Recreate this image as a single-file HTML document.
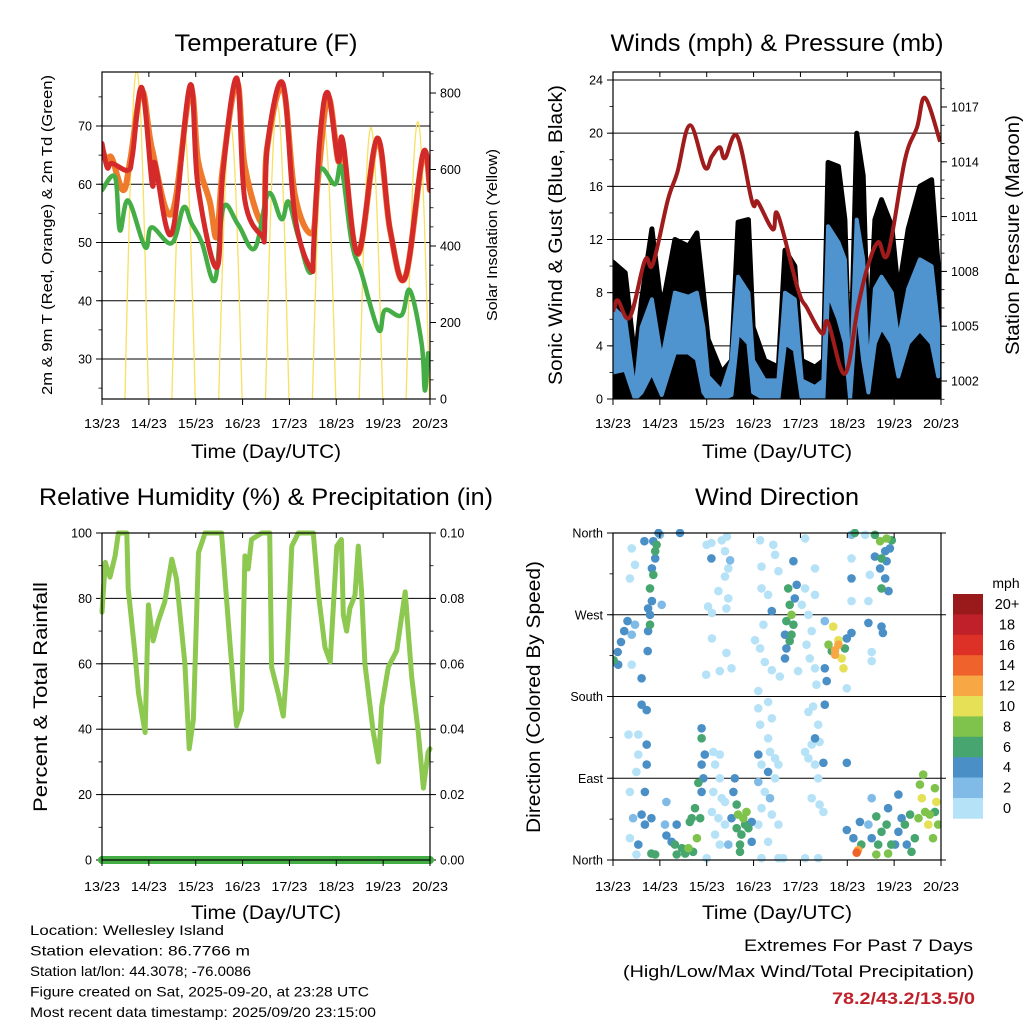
<!DOCTYPE html>
<html><head><meta charset="utf-8"><style>
html,body{margin:0;padding:0;background:#fff;}
svg{display:block;font-family:"Liberation Sans",Arial,sans-serif;}
</style></head><body>
<svg id="c" width="1024" height="1024" viewBox="0 0 1024 1024" xmlns="http://www.w3.org/2000/svg"></svg>
<script>
// ---------- DATA ----------
const dayLabels = ["13/23","14/23","15/23","16/23","17/23","18/23","19/23","20/23"];
// Temperature (days since 13/23, deg F)
const redT = [0,0.11,0.21,0.55,0.65,0.85,1.07,1.13,1.49,1.88,2.05,2.45,2.58,2.88,3.05,3.44,3.47,3.52,3.86,4.12,4.48,4.52,4.65,4.82,5.04,5.14,5.46,5.87,6.15,6.47,6.85,7.0];
const redV = [67,62.9,63.6,62.4,65,76.6,60.1,63.6,51.6,77.0,59.5,45.7,62,78.2,57.2,50.9,52,66,77.3,54.3,45.2,50,68,75.7,64.1,67.5,48.1,67.9,52.1,44.0,65.3,59.0];
const orgT = [0,0.11,0.21,0.45,0.6,0.85,1.07,1.49,1.88,2.05,2.3,2.45,2.58,2.88,3.05,3.44,3.52,3.86,4.12,4.48,4.6,4.82,5.04,5.14,5.46,5.87,6.15,6.47,6.85,7.0];
const orgV = [66,64,64.5,59,64,76,66,55,76,64,57,51,63,77.5,63,53.3,66,76.5,58,51.6,60,75,64,67,48,67.5,52,44,65,59];
const grnT = [0,0.28,0.38,0.56,0.92,1.06,1.49,1.74,1.91,2.13,2.41,2.59,2.91,3.26,3.55,3.83,3.98,4.19,4.48,4.62,4.97,5.11,5.33,5.54,5.9,6.04,6.39,6.57,6.82,6.89,6.96];
const grnV = [59,61.2,52.1,57.2,49.2,52.6,49.9,56,53.3,50,43.5,56,53,49,58.4,54,57,51,45.2,61.9,60,62.9,50,44.7,35.0,38.4,37.5,41.8,32.7,24.6,31];
const solarPeaks = [860,720,720,770,710,710,725];
// Winds
const windT = [0,0.26,0.47,0.61,0.83,1.04,1.32,1.61,1.79,1.93,2.03,2.32,2.53,2.67,2.89,2.99,3.24,3.53,3.67,3.88,4.03,4.31,4.49,4.59,4.81,4.95,5.06,5.20,5.34,5.45,5.59,5.73,5.95,6.09,6.30,6.55,6.80,6.94];
const gustV = [10.3,9.5,2.9,7.5,12.8,6.7,12,11.5,12.5,8,4.5,2,2.9,13.3,13.5,5.4,2.9,2.4,11.2,10,2.9,2.4,2.9,17.8,17.5,13.5,0.6,20,16.8,3.5,13.5,15,13,8,12.8,16,16.5,10];
const windHi = [6.9,6.0,0.4,5.4,7.5,2.9,8,7.7,8,5.4,1.7,0.6,2.9,9.2,8,2.9,1.4,1.4,8,7.5,1.4,0.9,1.4,13,11.8,10.5,0.3,13.5,10.5,1.4,8.3,9.2,8,4.4,8.3,10.5,10,5.4];
const windLo = [2.0,2.2,0,0.5,2,0.3,3.5,3.5,3,0.5,0,0,0.3,5,4.2,0.5,0,0,4.2,3.7,0,0,0,8,6,4.2,0,7.2,2.9,0.5,4.2,5.4,4.2,1.7,4.2,5.2,4.2,1.7];
const presT = [0,0.04,0.11,0.36,0.68,0.85,1.17,1.37,1.64,1.96,2.11,2.28,2.39,2.65,2.97,3.09,3.41,3.52,3.95,4.14,4.46,4.59,4.95,5.23,5.44,5.66,5.87,6.23,6.49,6.66,6.98];
const presV = [1005.8,1006.1,1006.4,1005.5,1008.6,1008.4,1011.9,1013.4,1016.0,1013.7,1014.3,1014.8,1014.2,1015.4,1011.8,1011.8,1010.3,1011.1,1007.0,1006.0,1004.6,1005.2,1002.4,1006.1,1008.3,1009.6,1009.0,1014.1,1015.9,1017.5,1015.1];
// Relative humidity
const rhT = [0,0.07,0.17,0.28,0.35,0.53,0.56,0.7,0.78,0.92,0.99,1.09,1.2,1.34,1.49,1.59,1.77,1.86,1.95,2.06,2.2,2.55,2.7,2.87,2.98,3.05,3.12,3.19,3.41,3.58,3.62,3.76,3.87,3.94,4.05,4.19,4.51,4.62,4.76,4.87,5.01,5.11,5.15,5.22,5.29,5.4,5.47,5.54,5.61,5.79,5.9,5.97,6.11,6.29,6.47,6.61,6.75,6.86,6.96,7.0];
const rhV = [75.8,91,86.5,93,100,100,83,63.6,51,39,78,67,73,79,92,86,60,34,43,94,100,100,72,41,46,93,89,98,100,100,59,51,44,58,96,100,100,81,65,60.6,96,98,75,70,77,81,96,82,60,39,30,47,59,64,82,56,39,22,33,34];
const precipT = [0,7];
const precipV = [0,0];
// Wind direction points: [day, direction deg, speed mph]
const dirPts = [
[0.03,218,4],[0.1,229,4],[0.17,240,4],[0.24,252,4],[0.31,263,4],[0.11,215,4],[0.01,220,6],[0.4,248,2],[0.47,259,2],[0.36,310,0],[0.47,325,0],[0.4,343,0],[0.61,200,4],[0.4,215,0],
[0.97,360,4],[0.93,347,6],[0.9,332,4],[0.83,321,4],[0.86,314,6],[0.79,299,6],[0.83,285,4],[0.75,277,4],[0.79,270,4],[0.75,252,4],[0.79,259,6],[0.9,340,6],[0.86,351,4],[0.74,230,4],[0.67,351,4],[1.43,360,4],[1.04,281,2],[1.0,358,2],
[2.0,347,0],[2.1,349,0],[2.32,352,0],[2.43,356,0],[2.39,340,0],[2.5,330,2],[2.1,332,4],[2.46,321,0],[2.39,312,0],[2.25,296,0],[2.03,279,0],[2.46,288,0],[2.11,272,0],[2.42,277,0],[2.11,244,0],[2.42,228,0],[2.28,208,0],[1.99,204,0],[2.53,211,0],
[3.14,352,0],[3.17,323,0],[3.42,347,0],[3.46,336,0],[3.53,318,0],[3.17,299,0],[3.31,292,0],[3.39,274,4],[3.21,259,0],[3.03,242,0],[3.14,233,0],[3.24,218,0],[3.39,209,0],[3.56,202,0],[3.1,186,0],
[3.74,299,6],[3.77,281,6],[3.81,270,8],[3.7,263,6],[3.85,259,6],[3.67,248,4],[3.81,248,6],[3.7,233,4],[3.67,222,4],[3.88,288,4],[3.85,329,4],[3.92,303,4],[3.77,241,6],
[4.1,299,0],[4.03,281,0],[4.17,270,0],[4.31,292,0],[4.24,252,0],[4.13,237,0],[4.2,222,0],[4.31,211,0],[4.34,193,0],[4.31,321,0],[4.1,354,0],[4.52,263,2],[3.95,208,0],
[4.6,237,8],[4.67,230,6],[4.74,231,12],[4.81,237,12],[4.74,226,12],[4.88,222,10],[4.92,211,10],[4.81,242,10],[4.95,233,6],[4.7,257,10],[4.52,211,4],[4.56,197,4],[4.99,244,4],[5.09,250,4],[4.99,189,0],
[5.09,310,4],[5.09,332,0],[5.09,285,0],[5.45,285,0],[5.45,261,4],[5.52,229,0],[5.52,219,0],[5.73,257,4],[5.76,250,4],[5.48,314,0],[5.38,358,0],[5.09,358,2],
[5.59,358,6],[5.7,351,8],[5.84,354,8],[5.95,352,6],[5.81,340,4],[5.91,343,4],[5.73,332,6],[5.84,329,4],[5.7,321,4],[5.81,310,4],[5.73,299,6],[5.88,296,4],[5.59,334,4],[5.16,360,6],
[0.61,171,4],[0.72,165,4],[0.33,138,0],[0.54,138,0],[0.72,127,4],[0.54,116,0],[0.72,105,4],[0.5,97,0],[0.68,75,4],[0.36,75,0],[0.43,46,2],[0.61,50,4],[0.68,39,4],[0.36,24,0],[0.54,17,4],[0.82,7,6],[0.9,6,6],[0.5,6,0],[0.82,46,4],
[1.11,39,2],[1.14,27,4],[1.25,20,4],[1.32,17,6],[1.47,13,6],[1.54,7,6],[1.61,13,8],[1.68,46,6],[1.75,57,6],[1.79,24,8],[1.64,42,6],[1.86,46,6],[1.89,75,4],[1.93,90,4],[1.89,105,4],[1.89,145,4],[1.89,134,6],[1.82,85,6],[1.36,39,4],[1.14,64,2],[1.71,9,6],[1.36,6,6],[1.96,116,4],
[2.14,119,0],[2.28,116,0],[2.18,105,0],[2.28,90,0],[2.14,75,0],[2.32,68,0],[2.11,53,0],[2.25,46,0],[2.39,39,0],[2.18,28,0],[2.28,17,0],[2.0,2,0],[2.46,17,2],[2.39,64,0],
[2.6,90,4],[2.57,75,4],[2.64,61,6],[2.67,50,8],[2.78,46,8],[2.85,53,8],[2.82,39,6],[2.74,28,6],[2.71,17,6],[2.89,35,6],[2.64,35,6],[2.71,9,6],[2.96,20,4],[2.53,46,4],[2.96,42,4],
[3.1,167,0],[3.14,149,0],[3.31,174,0],[3.39,156,0],[3.31,134,0],[3.1,116,4],[3.17,105,0],[3.35,119,0],[3.46,112,0],[3.53,105,0],[3.31,97,4],[3.1,86,2],[3.24,75,0],[3.35,68,2],[3.46,90,0],[3.17,57,0],[3.39,50,0],[3.1,39,0],[3.31,20,0],[3.17,2,0],[3.53,2,0],[3.63,2,0],[3.53,39,0],
[4.17,163,0],[4.27,169,0],[4.38,149,0],[4.31,134,4],[4.1,119,0],[4.24,127,0],[4.41,130,0],[4.17,112,0],[4.31,105,0],[4.49,107,4],[4.38,90,0],[4.24,68,0],[4.41,61,0],[4.49,53,0],[4.1,2,0],[4.38,2,0],[4.52,171,4],
[4.99,107,4],[4.99,33,4],[5.13,24,4],[5.2,8,14],[5.23,11,12],[5.3,17,6],[5.27,42,4],[5.45,39,2],[5.52,24,4],[5.62,6,8],[5.66,17,6],[5.73,31,6],[5.87,7,8],[5.94,17,6],[5.84,39,6],[5.62,48,6],[5.52,68,2],[5.87,57,4],[6.09,31,4],[6.16,46,4],[6.02,17,4],[6.23,39,6],[6.27,17,4],[6.37,9,6],[6.44,24,6],[6.52,46,8],[6.59,68,10],[6.62,94,8],[6.66,53,8],[6.73,39,10],[6.76,50,8],[6.83,24,8],[6.87,53,6],[6.9,64,10],[6.94,39,8],[6.87,79,8],[6.34,50,6],[6.09,72,4],[6.55,83,8]
];
const cbLabels = ["20+","18","16","14","12","10","8","6","4","2","0"];
const cbColors = ["#9a1a1c","#c0202a","#dd3127","#f0622b","#f7a744","#e6e057","#7fc24c","#47a66f","#4a8fc6","#7fbbe6","#b6e2f7"];

// ---------- HELPERS ----------
const svg = document.getElementById('c');
const NS = "http://www.w3.org/2000/svg";
function mk(tag, attrs, parent, text){
  const e = document.createElementNS(NS, tag);
  for (const k in attrs) e.setAttribute(k, attrs[k]);
  if (text !== undefined) e.textContent = text;
  (parent||svg).appendChild(e);
  return e;
}
function txt(x,y,s,size,anchor,parent,extra){
  const a = {x:x,y:y,'font-size':size,'text-anchor':anchor||'middle',fill:'#000'};
  if (extra) for (const k in extra) a[k]=extra[k];
  return mk('text',a,parent,s);
}
function linmap(d0,d1,p0,p1){ return v => p0 + (v-d0)/(d1-d0)*(p1-p0); }
function pathOf(xs, ys, fx, fy){
  return xs.map((t,i)=>(i?'L':'M')+fx(t).toFixed(1)+','+fy(ys[i]).toFixed(1)).join('');
}
// smooth Catmull-Rom path through the data points
function smoothPath(xs, ys, fx, fy){
  const P = xs.map((t,i)=>[fx(t), fy(ys[i])]);
  let d = 'M'+P[0][0].toFixed(1)+','+P[0][1].toFixed(1);
  for (let i=0;i<P.length-1;i++){
    const p0=P[Math.max(0,i-1)], p1=P[i], p2=P[i+1], p3=P[Math.min(P.length-1,i+2)];
    const k=0.18;
    let c1x=p1[0]+(p2[0]-p0[0])*k, c1y=p1[1]+(p2[1]-p0[1])*k;
    let c2x=p2[0]-(p3[0]-p1[0])*k, c2y=p2[1]-(p3[1]-p1[1])*k;
    c1x=Math.min(Math.max(c1x,p1[0]),p2[0]); c2x=Math.min(Math.max(c2x,p1[0]),p2[0]);
    d += 'C'+c1x.toFixed(1)+','+c1y.toFixed(1)+' '+c2x.toFixed(1)+','+c2y.toFixed(1)+' '+p2[0].toFixed(1)+','+p2[1].toFixed(1);
  }
  return d;
}
function colorFor(s){ let i = Math.min(10, Math.floor(s/2)); return cbColors[10-i]; }

function frame(g, x0,y0,x1,y1){
  const r = mk('rect',{x:x0,y:y0,width:x1-x0,height:y1-y0,fill:'none',stroke:'#000','stroke-width':1.2},g);
  
  
}
function xAxis(g, x0, x1, yb, ytop, labelY, titleY){
  const fx = linmap(0,7,x0,x1);
  const ga = mk('g',{},g);
  
  
  dayLabels.forEach((l,i)=>{
    const x = fx(i);
    mk('line',{x1:x,y1:yb,x2:x,y2:yb+6,stroke:'#000','stroke-width':1},ga);
    mk('line',{x1:x,y1:ytop,x2:x,y2:ytop+5,stroke:'#000','stroke-width':1},ga);
    const t = txt(x,labelY,l,13,'middle',ga,{textLength:36,lengthAdjust:'spacingAndGlyphs'});
    
    
  });
  const tt = txt((x0+x1)/2,titleY,'Time (Day/UTC)',19,'middle',ga,{textLength:150,lengthAdjust:'spacingAndGlyphs'});
  
  
  return fx;
}
function yTicks(g, vals, fy, x, side, labels, grid, x0, x1, minorVals){
  vals.forEach((v,i)=>{
    const y = fy(v);
    if (grid) mk('line',{x1:x0,y1:y,x2:x1,y2:y,stroke:'#000','stroke-width':1},g);
    const dir = side==='left'?-1:1;
    mk('line',{x1:x,y1:y,x2:x+dir*6,y2:y,stroke:'#000','stroke-width':1},g);
    const t = txt(x+dir*10, y+4.5, labels[i], 12.5, side==='left'?'end':'start', g);
    
    
  });
  (minorVals||[]).forEach(v=>{
    const y = fy(v); const dir = side==='left'?-1:1;
    mk('line',{x1:x,y1:y,x2:x+dir*3.5,y2:y,stroke:'#000','stroke-width':0.8},g);
  });
}
function rotTitle(x,y,s,size,len,name,g){
  const t = txt(0,0,s,size,'middle',g,{transform:`translate(${x},${y}) rotate(-90)`,textLength:len,lengthAdjust:'spacingAndGlyphs'});
  
  
}
function title(x,y,s,len,name){
  const t = txt(x,y,s,24,'middle',svg,{textLength:len,lengthAdjust:'spacingAndGlyphs'});
  
  
}
function range(a,b,s){const r=[];for(let v=a;v<=b+1e-9;v+=s)r.push(+v.toFixed(4));return r;}

// ---------- PANEL 1: TEMPERATURE ----------
(function(){
  const g = mk('g',{});  
  const X0=102,X1=430,Y0=72,Y1=399;
  const fx = linmap(0,7,X0,X1);
  const fy = linmap(30,70,359,126);
  const fs = linmap(0,800,399,93);
  title(266,51,'Temperature (F)',183,'temperature-title');
  const clip = mk('clipPath',{id:'cp1'},g); mk('rect',{x:X0,y:Y0,width:X1-X0,height:Y1-Y0},clip);
  yTicks(g,[30,40,50,60,70],fy,X0,'left',['30','40','50','60','70'],true,X0,X1,range(25,75,5));
  yTicks(g,[0,200,400,600,800],fs,X1,'right',['0','200','400','600','800'],false,0,0,range(0,850,50));
  const pg = mk('g',{'clip-path':'url(#cp1)'},g);
  let sd='';
  solarPeaks.forEach((p,i)=>{
    for(let k=0;k<=40;k++){
      const f=k/40, t=i+0.49+0.5*f, v=p*Math.sin(Math.PI*f);
      sd += (k?'L':'M')+fx(t).toFixed(1)+','+fs(v).toFixed(1);
    }
  });
  const sp = mk('path',{d:sd,fill:'none',stroke:'#f8e060','stroke-width':1.3},pg);
   
  const go = mk('path',{d:smoothPath(orgT,orgV,fx,fy),fill:'none',stroke:'#f07a2c','stroke-width':6,'stroke-linejoin':'round','stroke-linecap':'round'},pg);
   
  const gg = mk('path',{d:smoothPath(grnT,grnV,fx,fy),fill:'none',stroke:'#45ad45','stroke-width':4.5,'stroke-linejoin':'round','stroke-linecap':'round'},pg);
   
  const gr = mk('path',{d:smoothPath(redT,redV,fx,fy),fill:'none',stroke:'#d42a2a','stroke-width':5,'stroke-linejoin':'round','stroke-linecap':'round'},pg);
   
  frame(g,X0,Y0,X1,Y1);
  xAxis(g,X0,X1,Y1,Y0,428,458);
  rotTitle(52,235,'2m & 9m T (Red, Orange) & 2m Td (Green)',14.5,320,'left-y-axis-title',g);
  rotTitle(497,235,'Solar Insolation (Yellow)',14.5,172,'right-y-axis-title',g);
})();

// ---------- PANEL 2: WINDS ----------
(function(){
  const g = mk('g',{});  
  const X0=613,X1=941,Y0=72,Y1=399;
  const fx = linmap(0,7,X0,X1);
  const fy = linmap(0,24,399,80);
  const fp = linmap(1002,1017,381,107);
  title(777,51,'Winds (mph) & Pressure (mb)',333,'winds-title');
  const clip = mk('clipPath',{id:'cp2'},g); mk('rect',{x:X0,y:Y0,width:X1-X0,height:Y1-Y0},clip);
  yTicks(g,[0,4,8,12,16,20,24],fy,X0,'left',['0','4','8','12','16','20','24'],true,X0,X1,range(0,24,2));
  yTicks(g,[1002,1005,1008,1011,1014,1017],fp,X1,'right',['1002','1005','1008','1011','1014','1017'],false,0,0,range(1001,1018,1));
  const pg = mk('g',{'clip-path':'url(#cp2)'},g);
  let d = 'M'+fx(windT[0])+','+fy(0);
  windT.forEach((t,i)=>{ d+='L'+fx(t).toFixed(1)+','+fy(gustV[i]).toFixed(1); });
  d += 'L'+fx(windT[windT.length-1])+','+fy(0)+'Z';
  const ga = mk('path',{d:d,fill:'#000',stroke:'#000','stroke-width':5,'stroke-linejoin':'round'},pg);
   
  let bd='';
  windT.forEach((t,i)=>{ bd+=(i?'L':'M')+fx(t).toFixed(1)+','+fy(windHi[i]).toFixed(1); });
  for(let i=windT.length-1;i>=0;i--) bd+='L'+fx(windT[i]).toFixed(1)+','+fy(windLo[i]).toFixed(1);
  bd+='Z';
  const bb = mk('path',{d:bd,fill:'#4f93cf',stroke:'#4f93cf','stroke-width':4,'stroke-linejoin':'round'},pg);
   
  const pr = mk('path',{d:smoothPath(presT,presV,fx,fp),fill:'none',stroke:'#a01c1c','stroke-width':4,'stroke-linejoin':'round'},pg);
   
  frame(g,X0,Y0,X1,Y1);
  xAxis(g,X0,X1,Y1,Y0,428,458);
  rotTitle(562,235,'Sonic Wind & Gust (Blue, Black)',19,300,'left-y-axis-title',g);
  rotTitle(1019,235,'Station Pressure (Maroon)',19,240,'right-y-axis-title',g);
})();

// ---------- PANEL 3: RH ----------
(function(){
  const g = mk('g',{});  
  const X0=102,X1=430,Y0=533,Y1=860;
  const fx = linmap(0,7,X0,X1);
  const fy = linmap(0,100,860,533);
  const fr = linmap(0,0.1,860,533);
  title(266,505,'Relative Humidity (%) & Precipitation (in)',454,'humidity-title');
  yTicks(g,[0,20,40,60,80,100],fy,X0,'left',['0','20','40','60','80','100'],true,X0,X1,range(0,100,10));
  yTicks(g,[0,0.02,0.04,0.06,0.08,0.1],fr,X1,'right',['0.00','0.02','0.04','0.06','0.08','0.10'],false,0,0,range(0,0.1,0.01));
  const rh = mk('path',{d:pathOf(rhT,rhV,fx,fy),fill:'none',stroke:'#8dc850','stroke-width':5,'stroke-linejoin':'round','stroke-linecap':'round'},g);
   
  const pp = mk('path',{d:pathOf(precipT,precipV,fx,fr),fill:'none',stroke:'#45ad45','stroke-width':8,'stroke-linecap':'round'},g);
   
  frame(g,X0,Y0,X1,Y1);
  xAxis(g,X0,X1,Y1,Y0,891,919);
  rotTitle(47,697,'Percent & Total Rainfall',19,230,'left-y-axis-title',g);
})();

// ---------- PANEL 4: WIND DIRECTION ----------
(function(){
  const g = mk('g',{});  
  const X0=613,X1=941,Y0=533,Y1=860;
  const fx = linmap(0,7,X0,X1);
  const fy = linmap(0,360,860,533);
  title(777,505,'Wind Direction',164,'wind-direction-title');
  yTicks(g,[0,90,180,270,360],fy,X0,'left',['North','East','South','West','North'],true,X0,X1,range(0,360,45));
  const clip = mk('clipPath',{id:'cp4'},g); mk('rect',{x:X0,y:Y0-4,width:X1-X0,height:Y1-Y0+8},clip);
  const pg = mk('g',{'clip-path':'url(#cp4)'},g);
  const sorted = dirPts.slice().sort((a,b)=>a[2]-b[2]);
  sorted.forEach(p=>{
    const c = mk('circle',{cx:fx(p[0]).toFixed(1),cy:fy(p[1]).toFixed(1),r:4.3,fill:colorFor(p[2])},pg);
    
    
  });
  frame(g,X0,Y0,X1,Y1);
  [0,90,180,270,360].forEach(v=>mk('line',{x1:X1,y1:fy(v),x2:X1+5,y2:fy(v),stroke:'#000'},g));
  xAxis(g,X0,X1,Y1,Y0,891,919);
  rotTitle(540,697,'Direction (Colored By Speed)',19,272,'left-y-axis-title',g);
  const cb = mk('g',{});  
  const cbTop=594, cbH=20.4;
  txt(1006,588,'mph',14,'middle',cb);
  cbColors.forEach((col,i)=>{
    const r = mk('rect',{x:953,y:cbTop+i*cbH,width:30,height:cbH+0.3,fill:col},cb);
    
    
    const t = txt(1007,cbTop+i*cbH+15,cbLabels[i],14.5,'middle',cb);
    
    
  });
})();

// ---------- FOOTER ----------
(function(){
  const g = mk('g',{});  
  const lines = ["Location: Wellesley Island","Station elevation: 86.7766 m","Station lat/lon: 44.3078; -76.0086","Figure created on Sat, 2025-09-20, at 23:28 UTC","Most recent data timestamp: 2025/09/20 23:15:00"];
  const lens = [194,220,221,339,346];
  lines.forEach((l,i)=>{ txt(30,935+i*20.5,l,14,'start',g,{textLength:lens[i],lengthAdjust:'spacingAndGlyphs'}); });
  const e = mk('g',{});  
  txt(973,951,'Extremes For Past 7 Days',17,'end',e,{textLength:229,lengthAdjust:'spacingAndGlyphs'});
  txt(974,977,'(High/Low/Max Wind/Total Precipitation)',17,'end',e,{textLength:351,lengthAdjust:'spacingAndGlyphs'});
  txt(975,1004,'78.2/43.2/13.5/0',17,'end',e,{fill:'#c0202a','font-weight':'bold',textLength:143,lengthAdjust:'spacingAndGlyphs'});
})();
</script>
</body></html>
